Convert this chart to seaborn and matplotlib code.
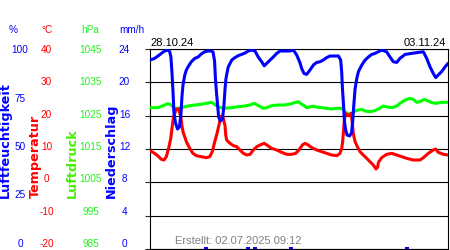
import matplotlib
matplotlib.use("Agg")
import matplotlib.pyplot as plt
import seaborn as sns

# hours since 28.10.24 00:00
hum_h = [0, 2.6, 4.5, 6.4, 8.3, 10.1, 11.1, 11.8, 12.4, 13.0, 13.5, 14.4, 15.5, 16.6, 17.5, 18.0,
         18.6, 19.6, 20.5, 21.4, 23.3, 25.2, 27.1, 28.9, 30.8, 32.7, 34.4, 35.5, 36.4, 36.9, 37.5,
         38.1, 38.7, 39.7, 40.9, 41.7, 42.3, 42.8, 43.2, 44.1, 46.1, 47.9, 49.8, 51.7, 53.6, 55.4,
         57.3, 59.2, 61.0, 63.0, 64.4, 65.8, 67.7, 69.5, 71.4, 73.3, 76.1, 78.9, 80.8, 82.7, 84.6,
         85.5, 86.8, 88.3, 90.2, 92.1, 94.0, 95.8, 97.7, 99.6, 101.5, 103.3, 106.2, 107.5, 108.1,
         108.5, 109.1, 109.6, 110.2, 111.1, 112.5, 113.6, 114.3, 114.9, 115.6, 116.6, 117.5, 119.4,
         121.3, 123.1, 125.0, 126.8, 128.7, 130.6, 133.4, 135.3, 137.2, 139.1, 140.9, 143.8, 147.5,
         151.3, 154.1, 156.0, 157.9, 159.7, 161.1, 162.5, 164.4, 166.3, 168]
hum_v = [94.5, 95.3, 96.5, 97.8, 99, 99.5, 98.6, 96, 88, 78, 68, 63, 60, 61, 68, 76,
         82, 87, 89.5, 91, 93.6, 95.3, 96, 97.5, 98.6, 99, 99, 98.6, 94, 85, 78,
         72, 66, 64, 65, 72, 80, 85, 87, 91, 94.5, 95.7, 96.7, 97.3, 98, 99,
         99.5, 99, 96, 93.6, 91.6, 92.8, 94.5, 96, 97.8, 99, 99, 99, 99.5, 97, 93,
         90.3, 87.8, 87.3, 89.5, 92, 93.3, 93.6, 94.5, 95.7, 96.5, 96.5, 96.5, 94.5, 88,
         80, 72, 64, 60, 57, 56.5, 58, 64, 72, 80, 85.3, 88.7, 92,
         94.5, 96, 97.3, 97.8, 98.6, 99.5, 98.6, 96, 93.6, 93.3, 95.3, 97.3, 97.8,
         98.3, 98.6, 95.3, 91, 87.8, 85.7, 87, 88.7, 91, 92.8]

temp_h = [0.4, 2.6, 4.5, 6.4, 7.9, 9.2, 10.5, 11.7, 12.4, 13.0, 13.8, 14.9, 16.1, 17.3, 18.0,
          18.6, 20.5, 22.4, 24.2, 26.1, 28.9, 31.7, 33.7, 35.1, 36.5, 37.8, 38.9, 39.9, 40.8,
          41.4, 42.3, 42.7, 43.2, 45.1, 47.0, 48.9, 50.7, 52.6, 54.5, 56.4, 58.2, 60.2, 62.0,
          64.4, 66.4, 68.6, 71.4, 74.2, 77.1, 79.9, 82.1, 84.0, 85.9, 87.4, 89.2, 91.2, 94.0,
          96.8, 99.6, 102.4, 105.3, 107.1, 108.1, 108.6, 109.2, 109.8, 110.3, 111.5, 112.4,
          113.3, 114.0, 114.6, 115.6, 116.9, 118.4, 120.2, 122.2, 124.0, 125.9, 127.4, 128.3,
          128.8, 130.6, 133.4, 136.3, 139.1, 141.9, 144.7, 148.4, 152.2, 154.1, 156.9, 159.7,
          161.1, 162.5, 165.4, 168]
temp_v = [9.4, 8.7, 7.9, 6.9, 6.7, 7.7, 10.2, 13.2, 16.2, 18.7, 20.5, 22, 22, 20, 17,
          15.2, 12.2, 10.2, 8.7, 8, 7.7, 7.4, 7.7, 9.2, 12.2, 14.7, 17.2, 19.7, 20,
          19, 17, 14.2, 12.7, 11.7, 11, 10.7, 9.7, 8.7, 8.2, 8.4, 9.7, 10.7, 11.2,
          11.7, 11, 10.2, 9.7, 9, 8.4, 8.4, 8.7, 9.7, 11.2, 11.7, 11.2, 10.4, 9.7,
          9.2, 8.7, 8.2, 8, 8.7, 10.2, 12.2, 16.2, 19.7, 20.7, 20, 20.2,
          20.7, 18.2, 14.7, 12.2, 10.7, 9.2, 8.2, 7.2, 6.2, 5.2, 4, 4.5,
          6, 7.4, 8.4, 8.7, 8.2, 7.7, 7.2, 6.7, 6.7, 7.4, 8.7, 9.7,
          10, 9, 8.4, 8.2]

press_h = [0.4, 4.5, 7.3, 10.1, 12.0, 13.5, 15.8, 17.6, 21.4, 25.2, 28.9, 31.7, 34.6, 36.5,
           38.3, 41.2, 46.1, 49.8, 53.6, 56.4, 58.8, 61.1, 63.9, 65.8, 68.6, 72.3, 76.1, 78.9,
           81.7, 83.7, 85.5, 86.4, 88.3, 91.2, 94.0, 96.8, 99.6, 102.4, 105.3, 108.1, 109.9,
           111.8, 113.7, 115.6, 117.4, 119.3, 121.2, 124.0, 126.8, 128.7, 131.5, 133.6, 136.3,
           139.1, 140.9, 143.8, 146.6, 148.4, 150.4, 152.2, 154.6, 156.9, 158.8, 161.6, 164.4, 168]
press_v = [1027.4, 1027.4, 1028, 1028.6, 1028.2, 1027.2, 1027.2, 1027.4, 1027.9, 1028.2, 1028.4,
           1028.7, 1029, 1028.4, 1027.7, 1027.2, 1027.4, 1027.7, 1027.9, 1028.2, 1028.7, 1028,
           1027.2, 1027.4, 1028, 1028.2, 1028.2, 1028.5, 1028.9, 1029.2, 1028.4, 1028.2, 1027.4,
           1027.8, 1027.6, 1027.4, 1027.2, 1027, 1027.2, 1027.2, 1026.2, 1025.4, 1025.7, 1026.4,
           1026.7, 1026.9, 1026.4, 1026.2, 1026.5, 1027, 1027.9, 1027.6, 1027.4, 1027.9, 1028.7,
           1029.7, 1030.2, 1029.9, 1029, 1029.2, 1029.9, 1029.4, 1028.9, 1028.7, 1029, 1029]

rain_h = [31.6, 55.2, 59.2, 79.5, 144.9]
rain_v = [0.2, 0.2, 0.2, 0.2, 0.2]

hum_ticks = [100, 75, 50, 25, 0]
temp_ticks = [40, 30, 20, 10, 0, -10, -20]
press_ticks = [1045, 1035, 1025, 1015, 1005, 995, 985]
rain_ticks = [24, 20, 16, 12, 8, 4, 0]

BLUE = "#0000ff"
RED = "#ff0000"
GREEN = "#00ff00"

sns.set_style("white")
plt.rcParams["font.family"] = ["Liberation Sans", "DejaVu Sans"]

W, H = 450, 250
fig = plt.figure(figsize=(W / 100, H / 100), dpi=100)
ax = fig.add_axes([150 / W, 1 - 249 / H, 298 / W, 200 / H])

# base axes: frame + horizontal grid (every 10 degC)
ax.set_ylim(0, 6)
ax.set_yticks(range(7))
ax.set_xticks([])
ax.tick_params(left=False, labelleft=False)
ax.grid(axis="y", color="black", linewidth=0.8)
for s in ax.spines.values():
    s.set_color("black")
    s.set_linewidth(0.8)

axR = ax.twinx()
axP = ax.twinx()
axT = ax.twinx()
axH = ax.twinx()

axR.bar(rain_h, rain_v, width=2, color=BLUE, linewidth=0)
sns.lineplot(x=press_h, y=press_v, ax=axP, color=GREEN, linewidth=2.2)
sns.lineplot(x=temp_h, y=temp_v, ax=axT, color=RED, linewidth=2.2)
sns.lineplot(x=hum_h, y=hum_v, ax=axH, color=BLUE, linewidth=2.2)

for a, lim in [(axR, (0, 24)), (axP, (985, 1045)), (axT, (-20, 40)), (axH, (0, 100))]:
    a.set_ylim(*lim)
    a.axis("off")
ax.set_xlim(0, 168)


def fx(x):
    return x / W


def fy(y):
    return 1 - y / H


# scale labels on the left
for ticks, cx, col in [(hum_ticks, 20, BLUE), (temp_ticks, 46.5, RED),
                       (press_ticks, 90.5, "#22ee22"), (rain_ticks, 124.5, BLUE)]:
    n = len(ticks) - 1
    for i, t in enumerate(ticks):
        fig.text(fx(cx), fy(50 + i * 194 / n), str(t), ha="center", va="center",
                 fontsize=7.2, color=col)

for txt, cx, col in [("%", 13.5, BLUE), ("°C", 46.5, RED), ("hPa", 90, "#22ee22"),
                     ("mm/h", 132, BLUE)]:
    fig.text(fx(cx), fy(30), txt, ha="center", va="center", fontsize=7.2, color=col)

for txt, cx, col in [("Luftfeuchtigkeit", 5.5, BLUE), ("Temperatur", 35, RED),
                     ("Luftdruck", 72.5, "#44ee00"), ("Niederschlag", 111.5, BLUE)]:
    fig.text(fx(cx), fy(198), txt, rotation=90, ha="center", va="bottom", fontsize=9.2,
             fontweight="bold", family="DejaVu Sans", color=col)

fig.text(fx(150), fy(43.5), "28.10.24", ha="left", va="center", fontsize=8, color="black")
fig.text(fx(446), fy(43.5), "03.11.24", ha="right", va="center", fontsize=8, color="black")
fig.text(fx(175), fy(241), "Erstellt: 02.07.2025 09:12", ha="left", va="center",
         fontsize=8, color="#808080")

fig.savefig("out.png", dpi=100)
